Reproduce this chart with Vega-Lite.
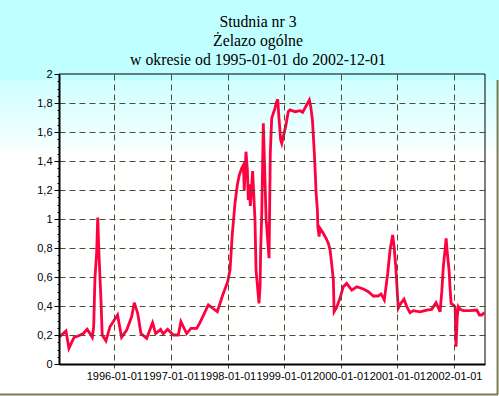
{
  "$schema": "https://vega.github.io/schema/vega-lite/v6.json",
  "autosize": "none",
  "width": 426,
  "height": 290,
  "padding": {"left": 59, "top": 74, "right": 14, "bottom": 32},
  "background": "#c0ffff",
  "config": {
    "view": {"stroke": null},
    "axis": {"labelFont": "Liberation Sans", "labelFontSize": 11, "labelColor": "black", "title": null, "labelOverlap": false, "labelBound": false, "labelFlush": false}
  },
  "title": {
    "text": ["Studnia nr 3", "Żelazo ogólne", "w okresie od 1995-01-01 do 2002-12-01"],
    "font": "Liberation Serif",
    "fontSize": 15.8,
    "fontWeight": "normal",
    "color": "black",
    "lineHeight": 19,
    "anchor": "middle",
    "frame": "group",
    "dx": -14,
    "offset": -1
  },
  "datasets": {
    "fe": [
      {"date": "1995-01-09", "v": 0.184},
      {"date": "1995-02-23", "v": 0.228},
      {"date": "1995-03-14", "v": 0.108},
      {"date": "1995-04-16", "v": 0.184},
      {"date": "1995-05-13", "v": 0.193},
      {"date": "1995-06-15", "v": 0.21},
      {"date": "1995-07-10", "v": 0.24},
      {"date": "1995-07-28", "v": 0.21},
      {"date": "1995-08-12", "v": 0.184},
      {"date": "1995-08-21", "v": 0.257},
      {"date": "1995-08-29", "v": 0.59},
      {"date": "1995-09-09", "v": 0.765},
      {"date": "1995-09-16", "v": 1.01},
      {"date": "1995-09-24", "v": 0.76},
      {"date": "1995-10-07", "v": 0.44},
      {"date": "1995-10-15", "v": 0.2},
      {"date": "1995-11-08", "v": 0.16},
      {"date": "1995-12-04", "v": 0.257},
      {"date": "1996-01-22", "v": 0.338},
      {"date": "1996-02-17", "v": 0.184},
      {"date": "1996-03-21", "v": 0.234},
      {"date": "1996-04-22", "v": 0.326},
      {"date": "1996-05-09", "v": 0.423},
      {"date": "1996-05-31", "v": 0.35},
      {"date": "1996-06-21", "v": 0.21},
      {"date": "1996-07-28", "v": 0.177},
      {"date": "1996-09-04", "v": 0.285},
      {"date": "1996-09-24", "v": 0.21},
      {"date": "1996-10-26", "v": 0.239},
      {"date": "1996-11-12", "v": 0.207},
      {"date": "1996-12-10", "v": 0.239},
      {"date": "1997-01-16", "v": 0.2},
      {"date": "1997-02-17", "v": 0.2},
      {"date": "1997-03-06", "v": 0.292},
      {"date": "1997-04-12", "v": 0.21},
      {"date": "1997-05-10", "v": 0.246},
      {"date": "1997-06-16", "v": 0.246},
      {"date": "1997-07-07", "v": 0.285},
      {"date": "1997-08-30", "v": 0.407},
      {"date": "1997-10-27", "v": 0.36},
      {"date": "1997-12-01", "v": 0.476},
      {"date": "1998-01-02", "v": 0.568},
      {"date": "1998-01-17", "v": 0.648},
      {"date": "1998-02-01", "v": 0.9},
      {"date": "1998-02-18", "v": 1.108},
      {"date": "1998-03-05", "v": 1.234},
      {"date": "1998-03-18", "v": 1.303},
      {"date": "1998-04-02", "v": 1.35},
      {"date": "1998-04-13", "v": 1.372},
      {"date": "1998-04-19", "v": 1.2},
      {"date": "1998-04-30", "v": 1.464},
      {"date": "1998-05-09", "v": 1.338},
      {"date": "1998-05-15", "v": 1.131},
      {"date": "1998-05-21", "v": 1.24},
      {"date": "1998-05-28", "v": 1.09},
      {"date": "1998-06-12", "v": 1.33},
      {"date": "1998-06-27", "v": 1.0},
      {"date": "1998-07-04", "v": 0.648},
      {"date": "1998-07-23", "v": 0.418},
      {"date": "1998-07-30", "v": 0.533},
      {"date": "1998-08-03", "v": 0.786},
      {"date": "1998-08-10", "v": 1.04},
      {"date": "1998-08-20", "v": 1.66},
      {"date": "1998-09-07", "v": 1.0},
      {"date": "1998-09-26", "v": 0.73},
      {"date": "1998-10-04", "v": 1.45},
      {"date": "1998-10-13", "v": 1.694},
      {"date": "1998-10-23", "v": 1.728},
      {"date": "1998-11-03", "v": 1.763},
      {"date": "1998-11-14", "v": 1.809},
      {"date": "1998-11-21", "v": 1.825},
      {"date": "1998-11-29", "v": 1.694},
      {"date": "1998-12-10", "v": 1.545},
      {"date": "1998-12-17", "v": 1.521},
      {"date": "1998-12-27", "v": 1.568},
      {"date": "1999-01-11", "v": 1.637},
      {"date": "1999-01-28", "v": 1.74},
      {"date": "1999-02-08", "v": 1.752},
      {"date": "1999-03-13", "v": 1.74},
      {"date": "1999-04-14", "v": 1.747},
      {"date": "1999-05-01", "v": 1.736},
      {"date": "1999-05-21", "v": 1.775},
      {"date": "1999-06-07", "v": 1.809},
      {"date": "1999-06-13", "v": 1.821},
      {"date": "1999-06-22", "v": 1.775},
      {"date": "1999-07-03", "v": 1.683},
      {"date": "1999-07-16", "v": 1.441},
      {"date": "1999-07-27", "v": 1.177},
      {"date": "1999-08-04", "v": 1.062},
      {"date": "1999-08-07", "v": 0.947},
      {"date": "1999-08-15", "v": 0.878},
      {"date": "1999-08-21", "v": 0.936},
      {"date": "1999-09-12", "v": 0.9},
      {"date": "1999-09-29", "v": 0.867},
      {"date": "1999-10-14", "v": 0.832},
      {"date": "1999-10-25", "v": 0.786},
      {"date": "1999-11-05", "v": 0.683},
      {"date": "1999-11-15", "v": 0.579},
      {"date": "1999-11-20", "v": 0.36},
      {"date": "1999-12-06", "v": 0.39},
      {"date": "1999-12-28", "v": 0.453},
      {"date": "2000-01-18", "v": 0.533},
      {"date": "2000-02-09", "v": 0.556},
      {"date": "2000-03-13", "v": 0.51},
      {"date": "2000-04-14", "v": 0.533},
      {"date": "2000-05-27", "v": 0.517},
      {"date": "2000-06-28", "v": 0.499},
      {"date": "2000-07-30", "v": 0.469},
      {"date": "2000-08-31", "v": 0.469},
      {"date": "2000-09-18", "v": 0.483},
      {"date": "2000-10-09", "v": 0.441},
      {"date": "2000-10-31", "v": 0.625},
      {"date": "2000-11-15", "v": 0.786},
      {"date": "2000-12-02", "v": 0.89},
      {"date": "2000-12-11", "v": 0.81},
      {"date": "2000-12-22", "v": 0.671},
      {"date": "2001-01-07", "v": 0.384},
      {"date": "2001-01-23", "v": 0.418},
      {"date": "2001-02-13", "v": 0.448},
      {"date": "2001-03-03", "v": 0.395},
      {"date": "2001-03-24", "v": 0.354},
      {"date": "2001-04-14", "v": 0.368},
      {"date": "2001-05-28", "v": 0.36},
      {"date": "2001-07-10", "v": 0.372},
      {"date": "2001-08-11", "v": 0.377},
      {"date": "2001-09-08", "v": 0.423},
      {"date": "2001-10-04", "v": 0.36},
      {"date": "2001-10-15", "v": 0.499},
      {"date": "2001-10-25", "v": 0.671},
      {"date": "2001-11-05", "v": 0.786},
      {"date": "2001-11-12", "v": 0.867},
      {"date": "2001-11-20", "v": 0.763},
      {"date": "2001-12-01", "v": 0.648},
      {"date": "2001-12-07", "v": 0.533},
      {"date": "2001-12-14", "v": 0.418},
      {"date": "2001-12-29", "v": 0.407},
      {"date": "2002-01-09", "v": 0.395},
      {"date": "2002-01-15", "v": 0.119},
      {"date": "2002-01-23", "v": 0.326},
      {"date": "2002-01-30", "v": 0.395},
      {"date": "2002-02-10", "v": 0.377},
      {"date": "2002-03-03", "v": 0.368},
      {"date": "2002-04-15", "v": 0.368},
      {"date": "2002-05-29", "v": 0.372},
      {"date": "2002-06-15", "v": 0.338},
      {"date": "2002-06-30", "v": 0.338},
      {"date": "2002-07-17", "v": 0.354}
    ]
  },
  "layer": [
    {
      "data": {"values": [{}]},
      "mark": {
        "type": "rect",
        "color": {
          "gradient": "linear", "x1": 0, "y1": 0, "x2": 0, "y2": 1,
          "stops": [
            {"offset": 0, "color": "#cfffff"},
            {"offset": 0.219, "color": "#f6ffff"},
            {"offset": 0.22, "color": "#ffffff"},
            {"offset": 1, "color": "#ffffff"}
          ]
        }
      },
      "encoding": {
        "x": {"datum": {"year": 1993, "month": 11, "date": 22, "utc": true}, "type": "temporal"},
        "x2": {"datum": {"year": 2002, "month": 11, "date": 28, "utc": true}},
        "y": {"datum": 1.9586, "type": "quantitative"},
        "y2": {"datum": -0.248}
      }
    },
    {
      "data": {"values": [{}]},
      "mark": {"type": "rule", "color": "#7b7b52", "strokeWidth": 2},
      "encoding": {
        "x": {"datum": {"year": 1993, "month": 11, "date": 22, "utc": true}, "type": "temporal"},
        "x2": {"datum": {"year": 2002, "month": 10, "date": 13, "utc": true}},
        "y": {"datum": -0.21, "type": "quantitative"}
      }
    },
    {
      "data": {"values": [{}]},
      "mark": {"type": "rule", "color": "#7b7b52", "strokeWidth": 2},
      "encoding": {
        "x": {"datum": {"year": 2002, "month": 10, "date": 10, "utc": true}, "type": "temporal"},
        "y": {"datum": 1.9586, "type": "quantitative"},
        "y2": {"datum": -0.21}
      }
    },
    {
      "data": {"values": [{}]},
      "mark": {"type": "rule", "color": "black", "strokeWidth": 1},
      "encoding": {
        "y": {"datum": 2, "type": "quantitative"}
      }
    },
    {
      "data": {"values": [{}]},
      "mark": {"type": "rule", "color": "black", "strokeWidth": 1},
      "encoding": {
        "x": {"datum": {"year": 2002, "month": 7, "date": 21, "utc": true}, "type": "temporal"}
      }
    },
    {
      "data": {"name": "fe"},
      "mark": {"type": "line", "color": "#ff0040", "strokeWidth": 2.8},
      "encoding": {
        "x": {
          "field": "date", "type": "temporal",
          "scale": {"type": "utc", "domain": [{"year": 1995, "month": 1, "date": 9, "utc": true}, {"year": 2002, "month": 7, "date": 21, "utc": true}]},
          "axis": {
            "zindex": 1,
            "tickCount": 50,
            "values": [
              {"year": 1996, "month": 1, "date": 1, "utc": true},
              {"year": 1997, "month": 1, "date": 1, "utc": true},
              {"year": 1998, "month": 1, "date": 1, "utc": true},
              {"year": 1999, "month": 1, "date": 1, "utc": true},
              {"year": 2000, "month": 1, "date": 1, "utc": true},
              {"year": 2001, "month": 1, "date": 1, "utc": true},
              {"year": 2002, "month": 1, "date": 1, "utc": true}
            ],
            "format": "%Y-%m-%d",
            "tickSize": 4,
            "tickColor": "#4d4d33",
            "labelPadding": 2,
            "grid": true,
            "gridColor": "#4d4d33",
            "gridDash": [6, 4],
            "gridWidth": 1,
            "domainColor": "black",
            "domainWidth": 2
          }
        },
        "y": {
          "field": "v", "type": "quantitative",
          "scale": {"domain": [0, 2]},
          "axis": {
            "zindex": 1,
            "tickCount": 100,
            "values": [0, 0.05, 0.1, 0.15, 0.2, 0.25, 0.3, 0.35, 0.4, 0.45, 0.5, 0.55, 0.6, 0.65, 0.7, 0.75, 0.8, 0.85, 0.9, 0.95, 1, 1.05, 1.1, 1.15, 1.2, 1.25, 1.3, 1.35, 1.4, 1.45, 1.5, 1.55, 1.6, 1.65, 1.7, 1.75, 1.8, 1.85, 1.9, 1.95, 2],
            "labelExpr": "abs(datum.value*5 - round(datum.value*5)) < 0.001 ? replace(format(datum.value, '~g'), '.', ',') : ''",
            "tickSize": {"condition": {"test": "abs(datum.value*5 - round(datum.value*5)) < 0.001", "value": 5}, "value": 2},
            "tickColor": "black",
            "labelPadding": 2,
            "grid": true,
            "gridColor": "#4d4d33",
            "gridDash": [6, 4],
            "gridWidth": 1,
            "gridOpacity": {"condition": {"test": "abs(datum.value*5 - round(datum.value*5)) < 0.001 && datum.value > 0.01 && datum.value < 1.99", "value": 1}, "value": 0},
            "domainColor": "black",
            "domainWidth": 2
          }
        }
      }
    }
  ]
}
